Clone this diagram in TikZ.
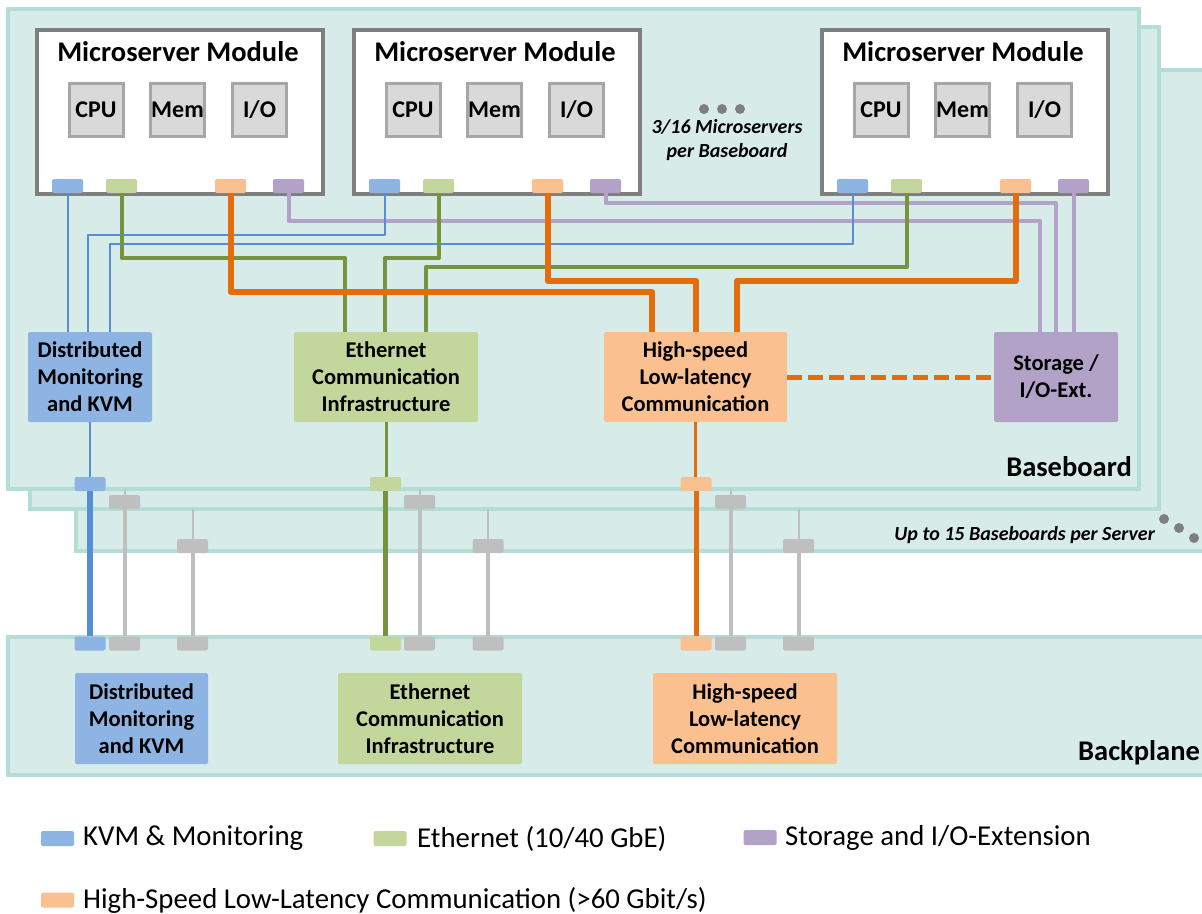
\documentclass[tikz,border=0pt]{standalone}
\usepackage{fontspec}
\setmainfont{Carlito}
\definecolor{boardfill}{HTML}{D7ECE9}
\definecolor{boardline}{HTML}{B3DDD6}
\definecolor{kvmF}{HTML}{8EB4E3}
\definecolor{kvmL}{HTML}{558ED5}
\definecolor{ethF}{HTML}{C3D69B}
\definecolor{ethL}{HTML}{77933C}
\definecolor{hsF}{HTML}{FAC090}
\definecolor{hsL}{HTML}{E46C0A}
\definecolor{stF}{HTML}{B3A2C7}
\definecolor{grayP}{HTML}{BFBFBF}
\definecolor{modL}{HTML}{7F7F7F}
\definecolor{innerF}{HTML}{D9D9D9}
\definecolor{innerL}{HTML}{A6A6A6}
\definecolor{dotC}{HTML}{7F7F7F}
\tikzset{
  board/.style={fill=boardfill, draw=boardline, line width=4},
  module/.style={draw=modL, fill=white, line width=4, inner sep=0, minimum width=286, minimum height=164, anchor=north west},
  innerbox/.style={draw=innerL, fill=innerF, line width=3, minimum width=54, minimum height=53, inner sep=0, font=\bfseries\fontsize{24}{28}\selectfont},
  port/.style={rounded corners=2, minimum width=31, minimum height=14, inner sep=0},
  midbox/.style={rounded corners=1.5, inner sep=0, align=center, font=\bfseries\fontsize{22.5}{27}\selectfont},
  title/.style={font=\bfseries\fontsize{28.5}{32}\selectfont, inner sep=0},
  note/.style={font=\bfseries\itshape\fontsize{20}{24}\selectfont, inner sep=0, align=center},
  label/.style={font=\bfseries\fontsize{28.5}{32}\selectfont, inner sep=0},
  legtext/.style={font=\fontsize{28.8}{32}\selectfont, inner sep=0, anchor=west},
  legbox/.style={rounded corners=1.5, minimum width=33, minimum height=15, inner sep=0},
  kvmthin/.style={draw=kvmL, line width=2, line join=round},
  ethwire/.style={draw=ethL, line width=4, line join=round},
  hswire/.style={draw=hsL, line width=6, line join=round},
  stwire/.style={draw=stF, line width=4, line join=round},
  graythin/.style={draw=grayP, line width=2},
  graythick/.style={draw=grayP, line width=4},
  dot/.style={circle, fill=dotC, minimum size=10, inner sep=0},
}
\begin{document}
\begin{tikzpicture}[x=1pt,y=-1pt]
\clip (0,0) rectangle (1202,913);
\fill[white] (0,0) rectangle (1202,913);
% boards (back to front)
\draw[board] (76,70) rectangle (1225,551);
\draw[board] (30,27) rectangle (1159,509);
\draw[board] (8,9) rectangle (1139,489);
\draw[board] (8,637) rectangle (1225,775);

% modules
\foreach \n/\x in {1/35,2/352,3/820}{
  \node[module] (m\n) at (\x,28) {};
  \node[title] (m\n t) at (\x+143,52) {Microserver Module};
  \node[innerbox] (m\n cpu) at (\x+61,110) {CPU};
  \node[innerbox] (m\n mem) at (\x+142.5,110) {Mem};
  \node[innerbox] (m\n io) at (\x+224.5,110) {I/O};
  \node[port, fill=kvmF] (m\n b) at (\x+32.5,186) {};
  \node[port, fill=ethF] (m\n g) at (\x+86.5,186) {};
  \node[port, fill=hsF] (m\n o) at (\x+195.5,186) {};
  \node[port, fill=stF] (m\n p) at (\x+253.5,186) {};
}

% middle boxes
\node[midbox, fill=kvmF, minimum width=124, minimum height=90] (kvm) at (90,377) {Distributed\\Monitoring\\and KVM};
\node[midbox, fill=ethF, minimum width=184, minimum height=90] (eth) at (386,377) {Ethernet\\Communication\\Infrastructure};
\node[midbox, fill=hsF, minimum width=183, minimum height=90] (hs) at (695.5,377) {High-speed\\Low-latency\\Communication};
\node[midbox, fill=stF, minimum width=124, minimum height=90] (st) at (1056,377) {Storage /\\I/O-Ext.};

% entry points
\coordinate (k2) at (88,332);
\coordinate (k3) at (110,332);
\coordinate (e1) at (345,332);
\coordinate (e2) at (385,332);
\coordinate (e3) at (426,332);
\coordinate (h1) at (652,332);
\coordinate (h2) at (696,332);
\coordinate (h3) at (737,332);
\coordinate (s1) at (1040,332);
\coordinate (s2) at (1056,332);

% storage wires
\draw[stwire] (m1p.south) |- (s1 |- 0,221) -- (s1);
\draw[stwire] (m2p.south) |- (s2 |- 0,203) -- (s2);
\draw[stwire] (m3p.south) -- (m3p.south |- st.north);
% kvm wires
\draw[kvmthin] (m1b.south) -- (m1b.south |- kvm.north);
\draw[kvmthin] (m2b.south) |- (k2 |- 0,235) -- (k2);
\draw[kvmthin] (m3b.south) |- (k3 |- 0,244) -- (k3);
% ethernet wires
\draw[ethwire] (m1g.south) |- (e1 |- 0,258) -- (e1);
\draw[ethwire] (m2g.south) |- (e2 |- 0,258) -- (e2);
\draw[ethwire] (m3g.south) |- (e3 |- 0,267) -- (e3);
% high-speed wires
\draw[hswire] (m1o.south) |- (h1 |- 0,292) -- (h1);
\draw[hswire] (m2o.south) |- (h2 |- 0,281) -- (h2);
\draw[hswire] (m3o.south) |- (h3 |- 0,281) -- (h3);
% dashed link
\draw[draw=hsL, line width=5, dash pattern=on 15 off 6] (hs.east) -- (st.west);

% baseboard ports
\node[port, fill=kvmF] (bb) at (90,484) {};
\node[port, fill=ethF] (bg) at (385.5,484) {};
\node[port, fill=hsF] (bo) at (696,484) {};
\draw[kvmthin] (kvm.south) -- (bb.north);
\draw[draw=ethL, line width=3] (eth.south) -- (eth.south |- bg.north);
\draw[draw=hsL, line width=3] (hs.south) -- (hs.south |- bo.north);

% board 2 / board 3 gray ports
\coordinate (t21) at (124.5,489);
\coordinate (t22) at (419.5,489);
\coordinate (t23) at (730.5,489);
\coordinate (t31) at (192.5,509);
\coordinate (t32) at (488,509);
\coordinate (t33) at (798.5,509);
\node[port, fill=grayP] (g21) at (124.5,502) {};
\node[port, fill=grayP] (g22) at (419.5,502) {};
\node[port, fill=grayP] (g23) at (730.5,502) {};
\node[port, fill=grayP] (g31) at (192.5,546) {};
\node[port, fill=grayP] (g32) at (488,546) {};
\node[port, fill=grayP] (g33) at (798.5,546) {};
\draw[graythin] (t21) -- (g21.north);
\draw[graythin] (t22) -- (g22.north);
\draw[graythin] (t23) -- (g23.north);
\draw[graythin] (t31) -- (g31.north);
\draw[graythin] (t32) -- (g32.north);
\draw[graythin] (t33) -- (g33.north);

% backplane ports
\node[port, fill=kvmF] (pb) at (90,643.5) {};
\node[port, fill=grayP] (p21) at (124.5,643.5) {};
\node[port, fill=grayP] (p31) at (192.5,643.5) {};
\node[port, fill=ethF] (pg) at (385.5,643.5) {};
\node[port, fill=grayP] (p22) at (419.5,643.5) {};
\node[port, fill=grayP] (p32) at (488,643.5) {};
\node[port, fill=hsF] (po) at (696,643.5) {};
\node[port, fill=grayP] (p23) at (730.5,643.5) {};
\node[port, fill=grayP] (p33) at (798.5,643.5) {};

\draw[draw=kvmL, line width=6] (bb.south) -- (pb.north);
\draw[draw=ethL, line width=5] (bg.south) -- (pg.north);
\draw[draw=hsL, line width=5] (bo.south) -- (po.north);
\draw[graythick] (g21.south) -- (p21.north);
\draw[graythick] (g22.south) -- (p22.north);
\draw[graythick] (g23.south) -- (p23.north);
\draw[graythick] (g31.south) -- (p31.north);
\draw[graythick] (g32.south) -- (p32.north);
\draw[graythick] (g33.south) -- (p33.north);

% backplane boxes
\node[midbox, fill=kvmF, minimum width=133, minimum height=91] (kvm2) at (141.5,718.5) {Distributed\\Monitoring\\and KVM};
\node[midbox, fill=ethF, minimum width=184, minimum height=91] (eth2) at (430,718.5) {Ethernet\\Communication\\Infrastructure};
\node[midbox, fill=hsF, minimum width=184, minimum height=91] (hs2) at (745,718.5) {High-speed\\Low-latency\\Communication};

% annotations
\node[dot] (d1) at (704,109) {};
\node[dot] (d2) at (722,109) {};
\node[dot] (d3) at (740,109) {};
\node[note] (n1) at (727,140) {3/16 Microservers\\per Baseboard};
\node[label, anchor=east] (lbb) at (1132,467) {Baseboard};
\node[note, anchor=east] (n2) at (1155,535) {Up to 15 Baseboards per Server};
\node[dot] (d4) at (1164,519) {};
\node[dot] (d5) at (1179,528) {};
\node[dot] (d6) at (1194,538) {};
\node[label, anchor=west] (lbp) at (1078,753) {Backplane};

% legend
\node[legbox, fill=kvmF] (l1) at (57.5,838.5) {};
\node[legtext] (l1t) at (83,838.5) {KVM \& Monitoring};
\node[legbox, fill=ethF] (l2) at (390,838.5) {};
\node[legtext] (l2t) at (417,838.5) {Ethernet (10/40 GbE)};
\node[legbox, fill=stF] (l3) at (760,837.5) {};
\node[legtext] (l3t) at (785,837.5) {Storage and I/O-Extension};
\node[legbox, fill=hsF] (l4) at (57.5,900) {};
\node[legtext] (l4t) at (83,900) {High-Speed Low-Latency Communication (>60 Gbit/s)};
\end{tikzpicture}
\end{document}
